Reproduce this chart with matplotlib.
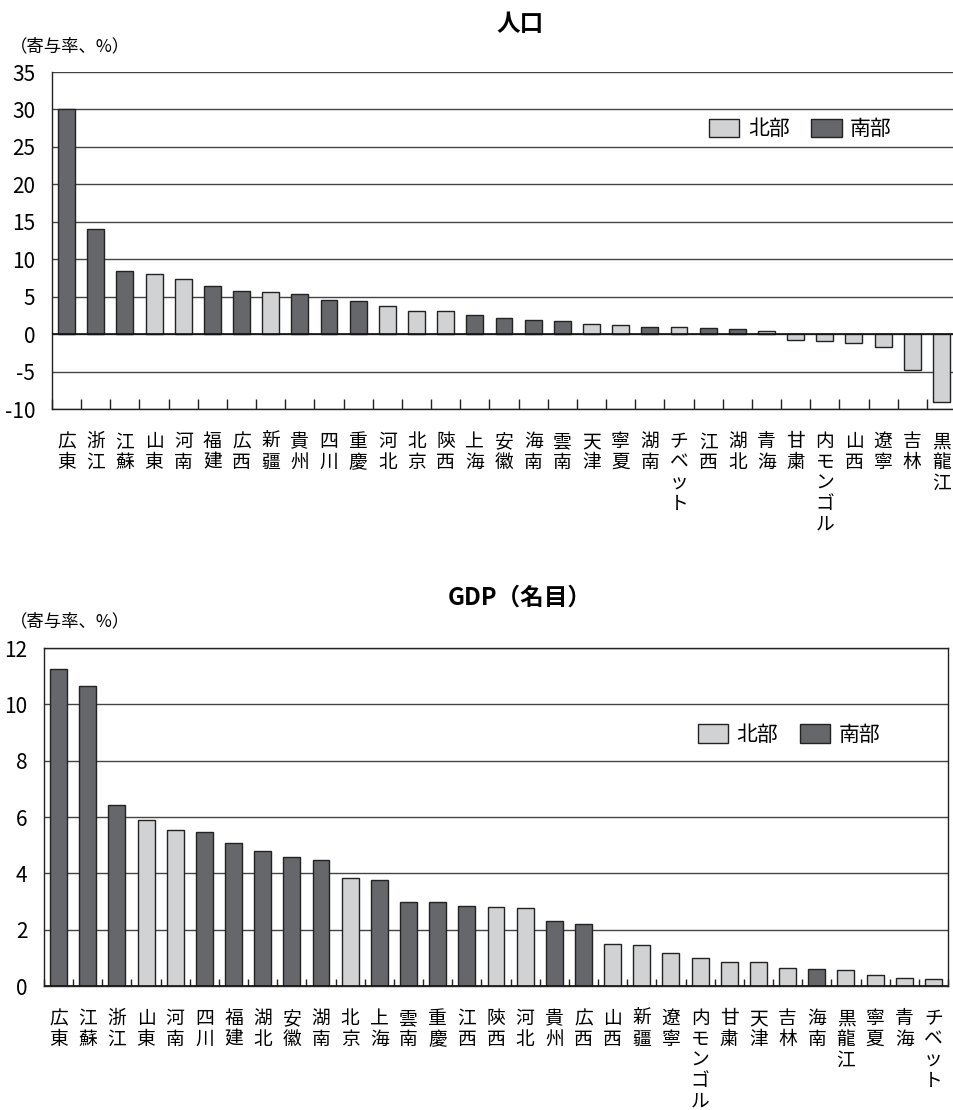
import numpy as np
import matplotlib
matplotlib.use('Agg')
import matplotlib.pyplot as plt
from matplotlib.patches import Patch

plt.rcParams['font.family'] = ['Noto Sans CJK JP', 'DejaVu Sans']
plt.rcParams['axes.unicode_minus'] = False

NORTH = '#d1d2d4'
SOUTH = '#66676b'
EDGE = '#222222'

# 人口 (寄与率, %)
pop_names = ['広東', '浙江', '江蘇', '山東', '河南', '福建', '広西', '新疆', '貴州', '四川',
             '重慶', '河北', '北京', '陝西', '上海', '安徽', '海南', '雲南', '天津', '寧夏',
             '湖南', 'チベット', '江西', '湖北', '青海', '甘粛', '内モンゴル', '山西', '遼寧',
             '吉林', '黒龍江']
pop_vals = [30.0, 14.0, 8.4, 8.0, 7.4, 6.4, 5.7, 5.6, 5.3, 4.5,
            4.4, 3.8, 3.15, 3.05, 2.5, 2.1, 1.95, 1.73, 1.3, 1.25,
            1.0, 0.9, 0.85, 0.7, 0.4, -0.8, -0.93, -1.2, -1.65,
            -4.75, -9.0]

# GDP(名目) (寄与率, %)
gdp_names = ['広東', '江蘇', '浙江', '山東', '河南', '四川', '福建', '湖北', '安徽', '湖南',
             '北京', '上海', '雲南', '重慶', '江西', '陝西', '河北', '貴州', '広西', '山西',
             '新疆', '遼寧', '内モンゴル', '甘粛', '天津', '吉林', '海南', '黒龍江', '寧夏',
             '青海', 'チベット']
gdp_vals = [11.25, 10.65, 6.42, 5.9, 5.55, 5.46, 5.08, 4.78, 4.57, 4.48,
            3.83, 3.76, 3.0, 2.97, 2.83, 2.8, 2.76, 2.3, 2.19, 1.48,
            1.46, 1.16, 1.0, 0.86, 0.84, 0.63, 0.6, 0.58, 0.4,
            0.3, 0.24]

north = {'山東', '河南', '新疆', '河北', '北京', '陝西', '天津', '寧夏', 'チベット', '青海',
         '甘粛', '内モンゴル', '山西', '遼寧', '吉林', '黒龍江'}


def draw(ax, names, vals, ymin, ymax, step, top_line):
    x = np.arange(len(names))
    colors = [NORTH if n in north else SOUTH for n in names]
    ax.bar(x, vals, width=0.58, color=colors, edgecolor=EDGE, linewidth=1.0, zorder=3)
    ax.set_xlim(-0.5, len(names) - 0.5)
    ax.set_ylim(ymin, ymax)
    ax.set_yticks(np.arange(ymin, ymax + 0.1, step))
    ax.yaxis.grid(True, color='#444444', linewidth=1.0, zorder=0)
    ax.axhline(0, color='#111111', linewidth=1.2, zorder=4)
    ax.set_xticks(x)
    ax.set_xticklabels(['\n'.join(n) for n in names], fontsize=13.5, linespacing=0.97,
                       va='top')
    ax.set_xticks(np.arange(-0.5, len(names)), minor=True)
    ax.tick_params(axis='x', which='major', length=0, pad=16)
    ax.tick_params(axis='x', which='minor', direction='in', length=7, width=1, color='#222222')
    ax.tick_params(axis='y', length=0, labelsize=15, pad=12)
    for s in ax.spines.values():
        s.set_color('#222222')
        s.set_linewidth(1.0)
    ax.spines['top'].set_visible(top_line)
    ax.spines['right'].set_visible(top_line)
    ax.legend(handles=[Patch(facecolor=NORTH, edgecolor=EDGE, label='北部'),
                       Patch(facecolor=SOUTH, edgecolor=EDGE, label='南部')],
              ncol=2, frameon=False, fontsize=15, handlelength=1.45, handleheight=1.0,
              handletextpad=0.4, columnspacing=1.05, borderpad=0, borderaxespad=0,
              loc='center left')


fig = plt.figure(figsize=(9.54, 11.1), dpi=100)

ax1 = fig.add_axes([0.0545, 0.6315, 0.9476, 0.3036])
draw(ax1, pop_names, pop_vals, -10, 35, 5, False)
ax1.get_legend().set_bbox_to_anchor((0.727, 0.831))

ax2 = fig.add_axes([0.0461, 0.1117, 0.9476, 0.3045])
draw(ax2, gdp_names, gdp_vals, 0, 12, 2, True)
ax2.get_legend().set_bbox_to_anchor((0.7235, 0.743))
ax2.tick_params(axis='x', which='minor', length=5)

fig.text(0.545, 0.978, '人口', ha='center', va='center', fontsize=17, fontweight='bold')
fig.text(0.545, 0.462, 'GDP（名目）', ha='center', va='center', fontsize=17, fontweight='bold')
fig.text(0.010, 0.958, '（寄与率、%）', ha='left', va='center', fontsize=12.5)
fig.text(0.010, 0.440, '（寄与率、%）', ha='left', va='center', fontsize=12.5)

fig.savefig('out.png', dpi=100)
